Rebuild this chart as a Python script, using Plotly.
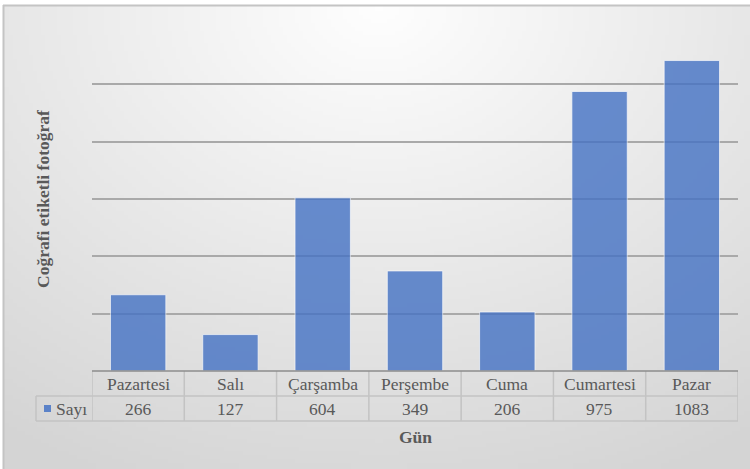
import base64
import struct
import zlib

import plotly.graph_objects as go

# ---- data -------------------------------------------------------------
days = ["Pazartesi", "Salı", "Çarşamba", "Perşembe", "Cuma", "Cumartesi", "Pazar"]
counts = [266, 127, 604, 349, 206, 975, 1083]
series_name = "Sayı"
y_title = "Coğrafi etiketli fotoğraf"
x_title = "Gün"

# ---- canvas geometry --------------------------------------------------
W, H = 750, 469
L, R, T, B = 92, 12, 27, 98
PW, PH = W - L - R, H - T - B

def px_x(p):
    """pixel column -> paper x"""
    return (p - L) / PW

def px_y(q):
    """pixel row -> paper y"""
    return (H - B - q) / PH

FONT = "Liberation Serif"
FS = 17.5
TXT = "#595959"
TABLE_LINE = "#c3c3c3"

# ---- soft radial background as a small PNG -----------------------------
def gradient_png(w, h):
    cx, cy, rx, ry = 0.50 * w, 0.0 * h, 0.72 * w, 0.90 * h
    rows = []
    for j in range(h):
        row = bytearray([0])
        for i in range(w):
            d = (((i - cx) / rx) ** 2 + ((j - cy) / ry) ** 2) ** 0.5
            d = min(d, 1.25)
            v = int(round(254 - 34 * d))
            row += bytes([v, v, v])
        rows.append(bytes(row))
    raw = b"".join(rows)

    def chunk(tag, data):
        c = tag + data
        return struct.pack(">I", len(data)) + c + struct.pack(">I", zlib.crc32(c) & 0xFFFFFFFF)

    png = b"\x89PNG\r\n\x1a\n"
    png += chunk(b"IHDR", struct.pack(">IIBBBBB", w, h, 8, 2, 0, 0, 0))
    png += chunk(b"IDAT", zlib.compress(raw, 9))
    png += chunk(b"IEND", b"")
    return "data:image/png;base64," + base64.b64encode(png).decode()

bg = gradient_png(188, 116)

fig = go.Figure(
    go.Bar(
        x=list(range(len(days))),
        y=counts,
        name=series_name,
        width=0.6,
        marker=dict(color="#4472C4", opacity=0.8,
                    line=dict(color="rgba(255,255,255,0.7)", width=1)),
        hoverinfo="skip",
    )
)

# ---- data table under the plot ----------------------------------------
row1_bot = px_y(396)
row2_bot = px_y(421)
left_col = px_x(36)
n = len(days)

shapes = []
# frame of the chart area (top and left edges)
shapes.append(dict(type="line", xref="paper", yref="paper",
                   x0=px_x(3), x1=px_x(750), y0=px_y(5.5), y1=px_y(5.5),
                   line=dict(color="#c4c4c4", width=2), layer="above"))
shapes.append(dict(type="line", xref="paper", yref="paper",
                   x0=px_x(3.5), x1=px_x(3.5), y0=px_y(5), y1=px_y(469),
                   line=dict(color="#c4c4c4", width=2), layer="above"))

# vertical cell borders
for i in range(n + 1):
    shapes.append(dict(type="line", xref="x", yref="paper",
                       x0=i - 0.5, x1=i - 0.5, y0=0, y1=row2_bot,
                       line=dict(color=TABLE_LINE, width=1.5)))
shapes.append(dict(type="line", xref="paper", yref="paper",
                   x0=left_col, x1=left_col, y0=row1_bot, y1=row2_bot,
                   line=dict(color=TABLE_LINE, width=1.5)))
# horizontal cell borders
shapes.append(dict(type="line", xref="paper", yref="paper",
                   x0=left_col, x1=1, y0=row1_bot, y1=row1_bot,
                   line=dict(color=TABLE_LINE, width=1.5)))
shapes.append(dict(type="line", xref="paper", yref="paper",
                   x0=left_col, x1=1, y0=row2_bot, y1=row2_bot,
                   line=dict(color=TABLE_LINE, width=1.5)))
# category axis line on top of the table
shapes.append(dict(type="line", xref="paper", yref="paper",
                   x0=0, x1=1, y0=0, y1=0,
                   line=dict(color="#8c8c8c", width=1.5), layer="above"))
# legend key square
shapes.append(dict(type="rect", xref="paper", yref="paper",
                   x0=px_x(44), x1=px_x(51), y0=px_y(412), y1=px_y(405),
                   fillcolor="#5b82c8", line=dict(width=0)))

annotations = []
for i, (d, c) in enumerate(zip(days, counts)):
    annotations.append(dict(x=i, y=(0 + row1_bot) / 2, xref="x", yref="paper",
                            xanchor="center", yanchor="middle",
                            text=d, showarrow=False,
                            font=dict(family=FONT, size=FS, color=TXT)))
    annotations.append(dict(x=i, y=(row1_bot + row2_bot) / 2, xref="x", yref="paper",
                            xanchor="center", yanchor="middle",
                            text=str(c), showarrow=False,
                            font=dict(family=FONT, size=FS, color=TXT)))
annotations.append(dict(x=px_x(54), y=(row1_bot + row2_bot) / 2, xref="paper", yref="paper",
                        xanchor="left", yanchor="middle", text=series_name, showarrow=False,
                        font=dict(family=FONT, size=FS, color=TXT)))
annotations.append(dict(x=0.5, y=px_y(437), xref="paper", yref="paper",
                        xanchor="center", yanchor="middle",
                        text=f"<b>{x_title}</b>", showarrow=False,
                        font=dict(family=FONT, size=FS, color=TXT)))
annotations.append(dict(x=px_x(43), y=0.5, xref="paper", yref="paper",
                        xanchor="center", yanchor="middle",
                        text=f"<b>{y_title}</b>", textangle=-90, showarrow=False,
                        font=dict(family=FONT, size=FS, color=TXT)))

fig.update_layout(
    width=W, height=H,
    margin=dict(l=L, r=R, t=T, b=B, pad=0),
    font=dict(family=FONT, color=TXT),
    paper_bgcolor="white",
    plot_bgcolor="rgba(0,0,0,0)",
    showlegend=False,
    bargap=0.4,
    xaxis=dict(range=[-0.5, n - 0.5], showticklabels=False, showgrid=False,
               zeroline=False, showline=False, ticks="", fixedrange=True),
    yaxis=dict(range=[0, 1200], dtick=200, showticklabels=False,
               showgrid=True, gridcolor="#a9a9a9", gridwidth=1.5,
               zeroline=False, showline=False, ticks="", fixedrange=True),
    shapes=shapes,
    annotations=annotations,
    images=[dict(source=bg, xref="paper", yref="paper",
                 x=px_x(3), y=px_y(5), sizex=(750 - 3) / PW, sizey=(469 - 5) / PH,
                 xanchor="left", yanchor="top", sizing="stretch", layer="below")],
)

fig.write_html("out.html", config={"displayModeBar": False})
